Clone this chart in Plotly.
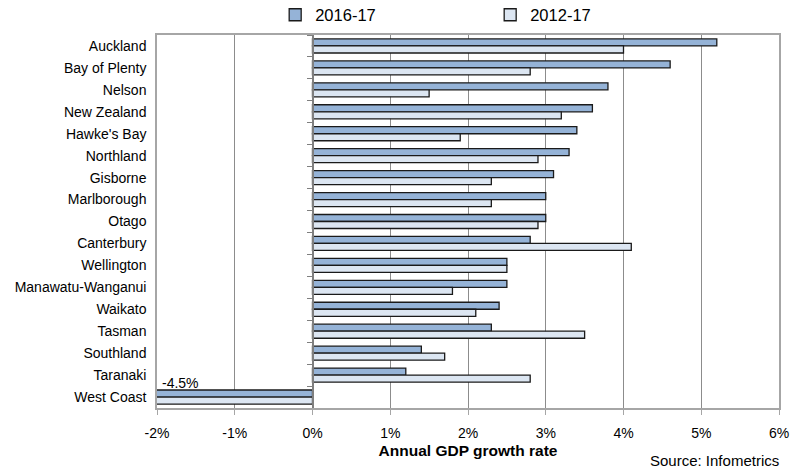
import plotly.graph_objects as go

regions = ["Auckland", "Bay of Plenty", "Nelson", "New Zealand", "Hawke's Bay",
           "Northland", "Gisborne", "Marlborough", "Otago", "Canterbury",
           "Wellington", "Manawatu-Wanganui", "Waikato", "Tasman", "Southland",
           "Taranaki", "West Coast"]
growth_2016_17 = [5.2, 4.6, 3.8, 3.6, 3.4, 3.3, 3.1, 3.0, 3.0, 2.8,
                  2.5, 2.5, 2.4, 2.3, 1.4, 1.2, -4.5]
growth_2012_17 = [4.0, 2.8, 1.5, 3.2, 1.9, 2.9, 2.3, 2.3, 2.9, 4.1,
                  2.5, 1.8, 2.1, 3.5, 1.7, 2.8, -2.6]
x_ticks = [-2, -1, 0, 1, 2, 3, 4, 5, 6]
x_tick_labels = [f"{t}%" for t in x_ticks]

FONT = "Liberation Sans, Arial, sans-serif"
GRID = "#8C8C8C"
FRAME = "#A6A6A6"

fig = go.Figure()
fig.add_trace(go.Bar(
    name="2016-17", y=regions, x=growth_2016_17, orientation="h",
    marker=dict(color="#95B3D7", line=dict(color="#1A1A1A", width=1.3)),
))
fig.add_trace(go.Bar(
    name="2012-17", y=regions, x=growth_2012_17, orientation="h",
    marker=dict(color="#DCE6F2", line=dict(color="#1A1A1A", width=1.3)),
))
# invisible trace that carries the vertical axis drawn at 0%
fig.add_trace(go.Scatter(
    y=regions, x=[0] * len(regions), yaxis="y2", mode="markers",
    marker=dict(opacity=0), showlegend=False, hoverinfo="skip",
))

# value label for the bar that runs off the left edge
wc = regions.index("West Coast")
fig.add_annotation(
    x=-2, y=regions[wc], xref="x", yref="y", xanchor="left", yanchor="bottom",
    text=f"{growth_2016_17[wc]:.1f}%", showarrow=False, yshift=4, xshift=3,
    font=dict(family=FONT, size=14, color="#000"),
)
fig.add_annotation(
    x=1, y=0, xref="paper", yref="paper", xanchor="right", yanchor="bottom",
    yshift=-63, xshift=2, text="Source: Infometrics", showarrow=False,
    font=dict(family=FONT, size=15, color="#000"),
)

n = len(regions)
fig.update_layout(
    width=805, height=470,
    margin=dict(l=157, r=26, t=35, b=62, autoexpand=False),
    paper_bgcolor="white", plot_bgcolor="white",
    barmode="group", bargap=0.36, bargroupgap=0,
    font=dict(family=FONT, size=14, color="#000"),
    showlegend=True,
    legend=dict(
        orientation="h", x=0.19, xanchor="left", y=1.0536, yanchor="middle",
        yref="paper", entrywidth=170, entrywidthmode="pixels",
        itemwidth=30, font=dict(family=FONT, size=16.5, color="#000"),
        traceorder="normal", bgcolor="rgba(0,0,0,0)",
    ),
    xaxis=dict(
        range=[-2, 6], tickvals=x_ticks, ticktext=x_tick_labels,
        showgrid=True, gridcolor=GRID, gridwidth=1, zeroline=False,
        showline=True, linecolor=FRAME, linewidth=1.5, mirror=True,
        ticks="outside", ticklen=5, tickcolor=FRAME, ticklabelstandoff=6,
        tickfont=dict(family=FONT, size=14, color="#000"),
        title=dict(text="<b>Annual GDP growth rate</b>", standoff=6,
                   font=dict(family=FONT, size=15.5, color="#000")),
        fixedrange=True,
    ),
    yaxis=dict(
        type="category", range=[n - 0.5, -0.5], autorange=False,
        showgrid=False,
        showline=True, linecolor=FRAME, linewidth=1.5, mirror=True,
        ticks="", ticklabelstandoff=6,
        tickfont=dict(family=FONT, size=14, color="#000"),
    ),
    yaxis2=dict(
        overlaying="y", anchor="free", position=0.25, side="left",
        matches="y", type="category", showgrid=False, zeroline=False,
        showline=True, linecolor="#7F7F7F", linewidth=1.5,
        ticks="outside", tickson="boundaries", ticklen=5, tickcolor="#7F7F7F",
        showticklabels=False,
    ),
)

fig.write_html("out.html")
